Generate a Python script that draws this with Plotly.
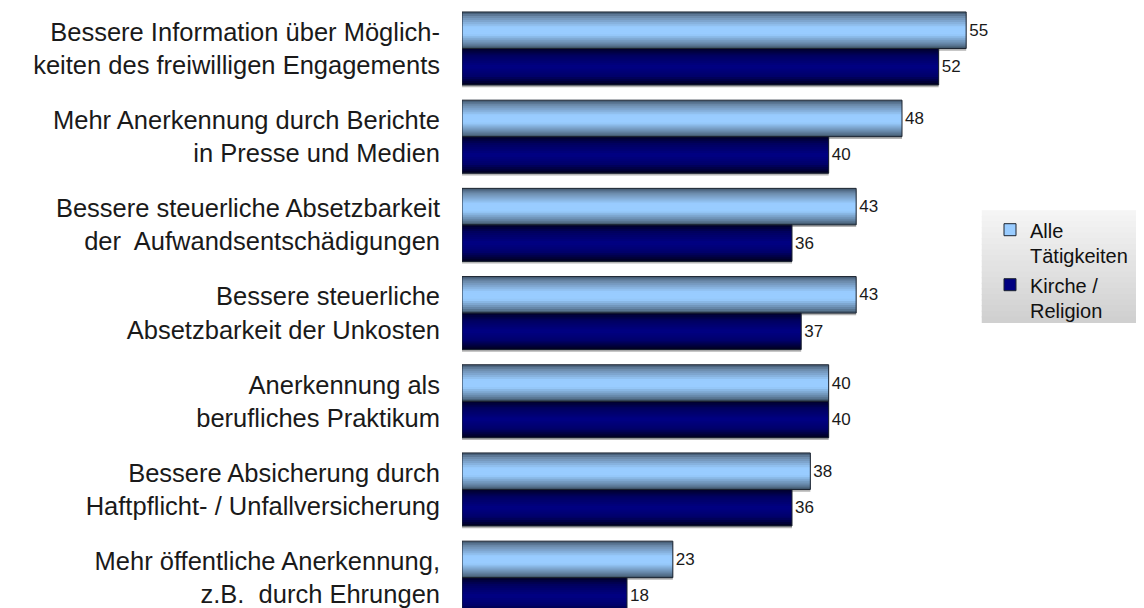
import plotly.graph_objects as go

# Kategorien (von oben nach unten) und Werte in Prozent
kategorien = [
    "Bessere Information über Möglich-<br>keiten des freiwilligen Engagements",
    "Mehr Anerkennung durch Berichte<br>in Presse und Medien",
    "Bessere steuerliche Absetzbarkeit<br>der  Aufwandsentschädigungen",
    "Bessere steuerliche<br>Absetzbarkeit der Unkosten",
    "Anerkennung als<br>berufliches Praktikum",
    "Bessere Absicherung durch<br>Haftpflicht- / Unfallversicherung",
    "Mehr öffentliche Anerkennung,<br>z.B.  durch Ehrungen",
]
alle_taetigkeiten = [55, 48, 43, 43, 40, 38, 23]
kirche_religion = [52, 40, 36, 37, 40, 36, 18]

serien = ["Alle<br>Tätigkeiten", "Kirche /<br>Religion"]

# Farbverlauf von oben (0) nach unten (1) je Serie
verlauf_hell = [(0.0, "#3f556c"), (0.12, "#6a88a8"), (0.42, "#99ccff"),
                (0.62, "#99ccff"), (0.9, "#5e7c9a"), (1.0, "#3c4f63")]
verlauf_dunkel = [(0.0, "#000028"), (0.2, "#000060"), (0.5, "#000084"),
                  (0.75, "#00006a"), (1.0, "#00001e")]
verlauf_legende = [(0.0, "#f6f6f6"), (1.0, "#cfcfcf")]


def farbe(stops, t):
    for (t0, c0), (t1, c1) in zip(stops, stops[1:]):
        if t <= t1:
            f = (t - t0) / (t1 - t0) if t1 > t0 else 0
            a = [int(c0[i:i + 2], 16) for i in (1, 3, 5)]
            b = [int(c1[i:i + 2], 16) for i in (1, 3, 5)]
            return "rgb(%d,%d,%d)" % tuple(round(x + (y - x) * f) for x, y in zip(a, b))
    return stops[-1][1]


pos = list(range(len(kategorien)))
breite = 0.414
streifen = 18
schrift = "Liberation Sans, Arial, sans-serif"

fig = go.Figure()

# leichter Schatten unter den Balken
for werte, start in [(alle_taetigkeiten, -breite), (kirche_religion, 0.0)]:
    fig.add_trace(go.Bar(
        x=werte, y=pos, orientation="h", width=breite, offset=start + 0.025,
        marker=dict(color="rgba(120,120,120,0.55)", line=dict(width=0)),
        showlegend=False, hoverinfo="skip",
    ))

for werte, start, stops in [(alle_taetigkeiten, -breite, verlauf_hell),
                            (kirche_religion, 0.0, verlauf_dunkel)]:
    h = breite / streifen
    for k in range(streifen):
        t = (k + 0.5) / streifen
        fig.add_trace(go.Bar(
            x=werte, y=pos, orientation="h",
            width=h * 2 if k < streifen - 1 else h,
            offset=start + k * h,
            marker=dict(color=farbe(stops, t), line=dict(width=0)),
            showlegend=False, hoverinfo="skip",
        ))
    # Umriss und Beschriftung
    fig.add_trace(go.Bar(
        x=werte, y=pos, orientation="h", width=breite, offset=start,
        marker=dict(color="rgba(0,0,0,0)", line=dict(color="#1c2430", width=1)),
        text=[str(v) for v in werte], textposition="outside",
        textfont=dict(size=17, color="#1a1a1a", family=schrift),
        cliponaxis=False, showlegend=False, hoverinfo="x",
    ))

# Legendeneinträge
for name, col in zip(serien, ["#99ccff", "#000080"]):
    fig.add_trace(go.Bar(
        x=[None], y=[None], orientation="h", name=name,
        marker=dict(color=col, line=dict(color="#1c2430", width=1)),
    ))

# Hintergrund der Legende mit Verlauf
n = 20
y_oben, y_unten = 0.663, 0.477
for k in range(n):
    fig.add_shape(
        type="rect", xref="paper", yref="paper", layer="below",
        x0=0.945, x1=1.25,
        y0=y_oben - (y_oben - y_unten) * (k + 1) / n - 0.002,
        y1=y_oben - (y_oben - y_unten) * k / n,
        fillcolor=farbe(verlauf_legende, (k + 0.5) / n), line=dict(width=0),
    )

fig.update_layout(
    width=1136, height=600,
    barmode="overlay",
    plot_bgcolor="rgba(0,0,0,0)", paper_bgcolor="white",
    margin=dict(l=454, r=132, t=0, b=0),
    font=dict(family=schrift, color="#1a1a1a"),
    legend=dict(
        x=0.96, xanchor="left", y=0.663, yanchor="top",
        bgcolor="rgba(0,0,0,0)", borderwidth=0,
        font=dict(size=20, color="#111111", family=schrift),
        traceorder="normal", itemwidth=30, tracegroupgap=0, valign="top",
    ),
)
fig.update_xaxes(range=[0, 60], visible=False)
fig.update_yaxes(
    range=[6.344, -0.459], tickmode="array", tickvals=pos, ticktext=kategorien,
    showgrid=False, zeroline=False, showline=False, ticks="",
    ticklabelstandoff=21, ticklabeloverflow="allow",
    tickfont=dict(size=25.5, color="#1a1a1a"),
)

fig.write_html("out.html")
